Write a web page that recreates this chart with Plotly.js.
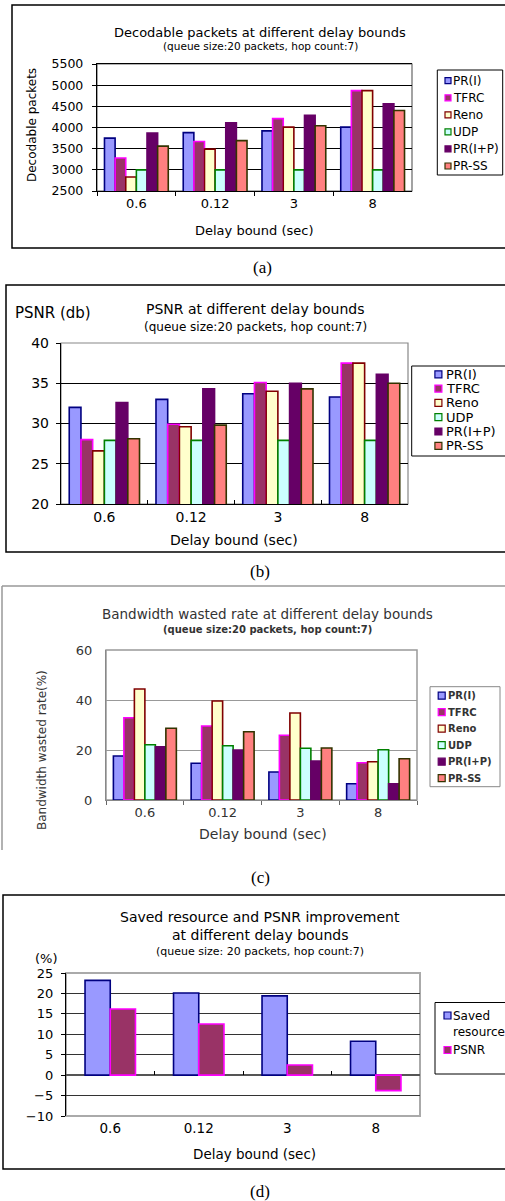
<!DOCTYPE html>
<html>
<head>
<meta charset="utf-8">
<script src="https://cdn.plot.ly/plotly-3.0.1.min.js"></script>
<style>
html,body{margin:0;padding:0;background:#fff;}
#chart{width:505px;height:1201px;}
</style>
</head>
<body>
<div id="chart"></div>
<script>
// ---------- DATA ----------
const categories = ['0.6', '0.12', '3', '8'];
const seriesNames = ['PR(I)', 'TFRC', 'Reno', 'UDP', 'PR(I+P)', 'PR-SS'];

// (a) Decodable packets
const decPRI  = [3750, 3880, 3920, 4010];
const decTFRC = [3280, 3670, 4210, 4870];
const decReno = [2830, 3490, 4010, 4870];
const decUDP  = [3000, 3000, 3000, 3000];
const decPRIP = [3870, 4110, 4290, 4560];
const decPRSS = [3560, 3690, 4040, 4400];

// (b) PSNR (db)
const psnrPRI  = [32.0, 33.0, 33.7, 33.3];
const psnrTFRC = [28.0, 29.9, 35.1, 37.5];
const psnrReno = [26.6, 29.6, 34.0, 37.5];
const psnrUDP  = [27.9, 27.9, 27.9, 27.9];
const psnrPRIP = [32.6, 34.3, 35.0, 36.1];
const psnrPRSS = [28.1, 29.8, 34.3, 35.0];

// (c) Bandwidth wasted rate (%)
const bwPRI  = [17.6, 14.7, 11.2, 6.5];
const bwTFRC = [32.9, 29.6, 25.9, 14.9];
const bwReno = [44.4, 39.6, 34.8, 15.3];
const bwUDP  = [22.1, 21.7, 20.7, 20.1];
const bwPRIP = [21.3, 20.0, 15.6, 6.5];
const bwPRSS = [28.7, 27.3, 20.8, 16.5];

// (d) Saved resource and PSNR improvement (%)
const improveNames = ['Saved<br>resource', 'PSNR'];
const savedResource = [23.2, 20.1, 19.4, 8.3];
const psnrImprove   = [16.2, 12.5, 2.5, -3.8];

// ---------- STYLE ----------
const FILL = ['#9999FF', '#993366', '#FFFFCC', '#CCFFFF', '#660066', '#FF8080'];
const EDGE = ['#000080', '#FF00FF', '#800000', '#008000', '#660066', '#333300'];
const FONT = 'DejaVu Sans, Verdana, sans-serif';
const SERIF = 'Liberation Serif, Times New Roman, serif';

const W = 505, H = 1201;
const px = x => x / W;
const py = y => 1 - y / H;

const traces = [];
function addGroup(arrays, xa, ya, names, fills, edges, extra) {
  arrays.forEach((vals, i) => {
    traces.push(Object.assign({
      type: 'bar', x: categories, y: vals, name: names[i].replace('<br>', ' '),
      xaxis: xa, yaxis: ya, showlegend: false,
      marker: {color: fills[i], line: {color: edges[i], width: 1.6}},
      hoverinfo: 'x+y+name'
    }, extra ? extra[i] : {}));
  });
}
addGroup([decPRI, decTFRC, decReno, decUDP, decPRIP, decPRSS], 'x', 'y', seriesNames, FILL, EDGE);
addGroup([psnrPRI, psnrTFRC, psnrReno, psnrUDP, psnrPRIP, psnrPRSS], 'x2', 'y2', seriesNames, FILL, EDGE);
addGroup([bwPRI, bwTFRC, bwReno, bwUDP, bwPRIP, bwPRSS], 'x3', 'y3', seriesNames, FILL, EDGE);
addGroup([savedResource, psnrImprove], 'x4', 'y4', improveNames, [FILL[0], FILL[1]], [EDGE[0], EDGE[1]],
  [{width: 0.285, offset: -0.285}, {width: 0.285, offset: 0}]);
// helper (empty) trace so the zero-line tick axis of panel (d) is drawn
traces.push({type: 'scatter', x: [], y: [], xaxis: 'x5', yaxis: 'y4', showlegend: false, hoverinfo: 'skip'});

function xAxis(dom, anchor, size, color, mirror, ticks) {
  return {
    type: 'category', domain: dom, anchor: anchor, range: [-0.5, 3.5],
    showline: true, linecolor: '#000', linewidth: 1.2, mirror: mirror,
    ticks: ticks, tickson: 'boundaries', ticklen: 4, tickcolor: '#000',
    tickfont: {family: FONT, size: size, color: color}, showgrid: false, fixedrange: true
  };
}
function yAxis(dom, anchor, range, dtick, size, color, gridcolor, standoff) {
  return {
    domain: dom, anchor: anchor, range: range, dtick: dtick,
    showline: true, linecolor: '#000', linewidth: 1.2,
    ticks: 'outside', ticklen: 4, tickcolor: '#000', ticklabelstandoff: standoff,
    showgrid: true, gridcolor: gridcolor, gridwidth: 1, zeroline: false,
    tickfont: {family: FONT, size: size, color: color}, fixedrange: true
  };
}

const dDom = [py(1116), py(973)];
const zeroPos = dDom[0] + (10 / 35) * (dDom[1] - dDom[0]);

const layout = {
  width: W, height: H, autosize: false,
  margin: {l: 0, r: 0, t: 0, b: 0, autoexpand: false},
  paper_bgcolor: '#fff', plot_bgcolor: '#fff',
  showlegend: false, barmode: 'group',
  xaxis:  xAxis([px(97), px(412)], 'y', 13, '#000', true, 'outside'),
  yaxis:  yAxis([py(191), py(64)], 'x', [2500, 5500], 500, 12.5, '#000', '#000', 6),
  xaxis2: xAxis([px(61), px(408)], 'y2', 14, '#000', false, 'inside'),
  yaxis2: yAxis([py(504), py(343)], 'x2', [20, 40], 5, 14, '#000', '#000', 4),
  xaxis3: Object.assign(xAxis([px(106), px(417)], 'y3', 13, '#333', false, 'outside'), {linecolor: '#888', tickcolor: '#666'}),
  yaxis3: Object.assign(yAxis([py(800), py(650)], 'x3', [0, 60], 20, 13, '#333', '#999', 10), {linecolor: '#888', ticks: ''}),
  xaxis4: Object.assign(xAxis([px(66), px(420)], 'y4', 13.5, '#000', false, ''), {linecolor: '#aaa'}),
  yaxis4: Object.assign(yAxis(dDom, 'x4', [-10, 25], 5, 13, '#000', '#333', 5), {zeroline: true, zerolinecolor: '#555', zerolinewidth: 1.5}),
  xaxis5: {overlaying: 'x4', anchor: 'free', position: zeroPos, side: 'bottom', range: [-0.5, 3.5],
           tickmode: 'array', tickvals: [0.5, 1.5, 2.5], ticks: 'inside', ticklen: 4, tickcolor: '#000',
           showticklabels: false, showline: false, showgrid: false, zeroline: false, fixedrange: true},
  bargap: 0.19, bargroupgap: 0,
  shapes: [
    // panel boxes
    {type: 'rect', xref: 'paper', yref: 'paper', x0: px(12), x1: px(520), y0: py(248), y1: py(5), line: {color: '#000', width: 1.5}},
    {type: 'rect', xref: 'paper', yref: 'paper', x0: px(6), x1: px(520), y0: py(552), y1: py(285), line: {color: '#000', width: 1.5}},
    {type: 'line', xref: 'paper', yref: 'paper', x0: px(2), x1: px(2), y0: py(850), y1: py(586), line: {color: '#999', width: 1.5}},
    {type: 'line', xref: 'paper', yref: 'paper', x0: px(2), x1: px(510), y0: py(586), y1: py(586), line: {color: '#999', width: 1.5}},
    {type: 'rect', xref: 'paper', yref: 'paper', x0: px(3), x1: px(520), y0: py(1169), y1: py(895), line: {color: '#000', width: 1.5}},
    // plot frames
    {type: 'rect', xref: 'x domain', yref: 'y domain', x0: 0, x1: 1, y0: 0, y1: 1, line: {color: '#666', width: 1.2}, layer: 'below'},
    {type: 'rect', xref: 'x2 domain', yref: 'y2 domain', x0: 0, x1: 1, y0: 0, y1: 1, line: {color: '#888', width: 1.2}, layer: 'below'},
    {type: 'rect', xref: 'x3 domain', yref: 'y3 domain', x0: 0, x1: 1, y0: 0, y1: 1, line: {color: '#999', width: 1.5}, layer: 'below'},
    {type: 'rect', xref: 'x4 domain', yref: 'y4 domain', x0: 0, x1: 1, y0: 0, y1: 1, line: {color: '#aaa', width: 2}, layer: 'below'}
  ],
  annotations: []
};

function txt(text, x, y, size, opts) {
  layout.annotations.push(Object.assign({
    text: text, xref: 'paper', yref: 'paper', x: px(x), y: py(y),
    xanchor: 'center', yanchor: 'middle', showarrow: false,
    font: {family: FONT, size: size, color: '#000'}
  }, opts || {}));
}
// (a)
txt('Decodable packets at different delay bounds', 260, 32, 13);
txt('(queue size:20 packets, hop count:7)', 260, 46, 10.5);
txt('Decodable packets', 32, 125, 12, {textangle: -90});
txt('Delay bound (sec)', 254, 230, 13);
txt('(a)', 262, 268, 17, {font: {family: SERIF, size: 17, color: '#000'}});
// (b)
txt('PSNR at different delay bounds', 255, 309, 14);
txt('(queue size:20 packets, hop count:7)', 255, 327, 12);
txt('PSNR (db)', 13, 313, 15, {xanchor: 'left'});
txt('Delay bound (sec)', 234, 540, 14);
txt('(b)', 260, 571, 17, {font: {family: SERIF, size: 17, color: '#000'}});
// (c)
txt('Bandwidth wasted rate at different delay bounds', 267, 614, 13.5, {font: {family: FONT, size: 13.5, color: '#333'}});
txt('(queue size:20 packets, hop count:7)', 267, 629, 10, {font: {family: 'DejaVu Sans', size: 10, color: '#333', weight: 'bold'}});
txt('Bandwidth wasted rate(%)', 42, 750, 12, {textangle: -90, font: {family: FONT, size: 12, color: '#333'}});
txt('Delay bound (sec)', 263, 834, 14, {font: {family: FONT, size: 14, color: '#333'}});
txt('(c)', 260, 878, 17, {font: {family: SERIF, size: 17, color: '#000'}});
// (d)
txt('Saved resource and PSNR improvement', 260, 917, 14);
txt('at different delay bounds', 260, 935, 14);
txt('(queue size: 20 packets, hop count:7)', 260, 951, 11);
txt('(%)', 46, 958, 13);
txt('Delay bound (sec)', 254, 1154, 13.5);
txt('(d)', 260, 1191, 17, {font: {family: SERIF, size: 17, color: '#000'}});

// ---------- Excel-style legends (box + small swatch + label) ----------
function legendBox(o, names, fills, edges) {
  layout.shapes.push({type: 'rect', xref: 'paper', yref: 'paper', layer: 'above',
    x0: px(o.left), x1: px(o.left + o.w), y0: py(o.top + o.h), y1: py(o.top),
    fillcolor: '#fff', line: {color: o.border, width: 1}});
  names.forEach((name, i) => {
    const cy = o.top + o.offsets[i];
    const cx = o.left + o.symX;
    layout.shapes.push({type: 'rect', xref: 'paper', yref: 'paper', layer: 'above',
      x0: px(cx - o.half), x1: px(cx + o.half), y0: py(cy + o.half), y1: py(cy - o.half),
      fillcolor: fills[i], line: {color: edges[i], width: 1.2}});
    const multi = name.indexOf('<br>') >= 0;
    layout.annotations.push({
      text: name, xref: 'paper', yref: 'paper', showarrow: false, align: 'left',
      x: px(o.left + o.textX - 2), xanchor: 'left',
      y: py(multi ? cy - o.font.size * 0.65 - 1 : cy), yanchor: multi ? 'top' : 'middle',
      font: o.font
    });
  });
}
legendBox({left: 437.3, top: 70, w: 65.4, h: 105, symX: 10.7, textX: 15.5, half: 3, border: '#000',
  offsets: [10.7, 27.8, 44.8, 61.9, 78.9, 96.0], font: {family: FONT, size: 12, color: '#000'}},
  seriesNames, FILL, EDGE);
legendBox({left: 411.7, top: 366, w: 120, h: 90, symX: 26.7, textX: 34.5, half: 3.5, border: '#000',
  offsets: [8.3, 22.6, 36.9, 51.2, 65.5, 79.8], font: {family: FONT, size: 13, color: '#000'}},
  seriesNames, FILL, EDGE);
legendBox({left: 430, top: 686.7, w: 70, h: 100, symX: 11.7, textX: 17.5, half: 3.5, border: '#888',
  offsets: [9, 25.5, 42, 58.5, 75, 91.5], font: {family: 'DejaVu Sans', size: 10, color: '#333', weight: 'bold'}},
  seriesNames, FILL, EDGE);
legendBox({left: 435, top: 1002.5, w: 120, h: 71.5, symX: 12.5, textX: 17.5, half: 3.5, border: '#000',
  offsets: [13, 47.5], font: {family: FONT, size: 12, color: '#000'}},
  improveNames, [FILL[0], FILL[1]], [EDGE[0], EDGE[1]]);

Plotly.newPlot('chart', traces, layout, {staticPlot: true, displayModeBar: false});
</script>
</body>
</html>
